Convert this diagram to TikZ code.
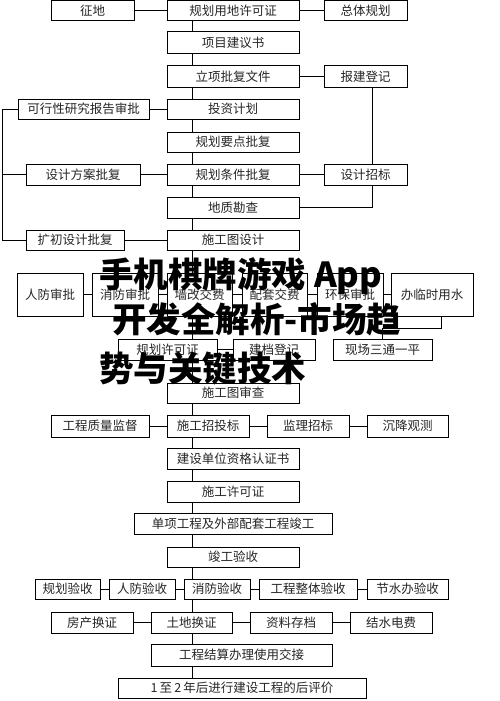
\documentclass[tikz,border=0pt]{standalone}
\usepackage{fontspec}
\newfontfamily\cjk{Noto Sans CJK SC}
\usetikzlibrary{backgrounds}
\newcommand\mkbox[6]{%
  \node[bx, minimum width={#3-#2}, minimum height={#5-#4}] (#1) at ({(#2+#3)/2},{(#4+#5)/2}) {#6};}
\begin{document}
\begin{tikzpicture}[x=1pt,y=-1pt,
  bx/.style={draw, line width=1pt, fill=white, inner sep=0pt,
    font=\cjk\fontsize{12.5}{14}\selectfont, text=black!85},
  ln/.style={line width=0.8pt},
  ttl/.style={anchor=base west, inner sep=0pt,
    font=\cjk\bfseries\fontsize{34.5}{36}\selectfont, text=black}]
\useasboundingbox (0,0) rectangle (500,701);
% top part
\mkbox{zd}{51}{134}{0.5}{21}{征地}
\mkbox{gh}{167}{299}{0.5}{21}{规划用地许可证}
\mkbox{zt}{324}{407}{0.5}{21}{总体规划}
\mkbox{xm}{167}{299}{32}{54}{项目建议书}
\mkbox{lx}{167}{299}{66}{87}{立项批复文件}
\mkbox{bj}{324}{407}{66}{87}{报建登记}
\mkbox{tz}{167}{299}{99}{119}{投资计划}
\mkbox{kx}{18}{149}{99}{119}{可行性研究报告审批}
\mkbox{yd}{167}{299}{132}{152}{规划要点批复}
\mkbox{tj}{167}{299}{164}{185}{规划条件批复}
\mkbox{fa}{26}{140}{164}{185}{设计方案批复}
\mkbox{zb}{324}{407}{164}{185}{设计招标}
\mkbox{dz}{167}{299}{197}{218}{地质勘查}
\mkbox{sj}{167}{299}{230}{250}{施工图设计}
\mkbox{kc}{26}{124}{230}{250}{扩初设计批复}
% six row
\mkbox{rf}{17}{83}{273}{316}{人防审批}
\mkbox{xf}{92}{158}{273}{316}{消防审批}
\mkbox{qg}{167}{232}{273}{316}{墙改交费}
\mkbox{pt}{242}{307}{273}{316}{配套交费}
\mkbox{hb}{317}{383}{273}{316}{环保审批}
\mkbox{ls}{391}{473}{273}{316}{办临时用水}
\mkbox{gx}{118}{217}{339}{360}{规划许可证}
\mkbox{jd}{233}{315}{339}{360}{建档登记}
\mkbox{xc}{333}{432}{339}{360}{现场三通一平}
% lower part
\mkbox{sc}{167}{299}{383}{403}{施工图审查}
\mkbox{zl}{51}{149}{415}{437}{工程质量监督}
\mkbox{zt2}{167}{249}{415}{437}{施工招投标}
\mkbox{jl}{267}{349}{415}{437}{监理招标}
\mkbox{cj}{367}{448}{415}{437}{沉降观测}
\mkbox{zg}{167}{299}{448}{469}{建设单位资格认证书}
\mkbox{xk}{167}{299}{481}{502}{施工许可证}
\mkbox{dx}{134}{332}{513}{534}{单项工程及外部配套工程竣工}
\mkbox{jg}{167}{299}{547}{567}{竣工验收}
\mkbox{ghys}{35}{100}{579}{599}{规划验收}
\mkbox{rfys}{109}{175}{579}{599}{人防验收}
\mkbox{xfys}{184}{250}{579}{599}{消防验收}
\mkbox{ztys}{259}{357}{579}{599}{工程整体验收}
\mkbox{jsys}{367}{448}{579}{599}{节水办验收}
\mkbox{fc}{51}{133}{612}{633}{房产换证}
\mkbox{td}{151}{232}{612}{633}{土地换证}
\mkbox{zl2}{250}{332}{612}{633}{资料存档}
\mkbox{js}{350}{432}{612}{633}{结水电费}
\mkbox{gc}{151}{332}{644}{666}{工程结算办理使用交接}
\mkbox{hp}{118}{366}{678}{698}{1\,至\,2\,年后进行建设工程的后评价}
% helper coordinates
\coordinate (mx) at (192,0);
\coordinate (lb) at (2,0);
\coordinate (bx) at (372,0);
\coordinate (k1) at (441,328);
\begin{pgfonlayer}{background}
\draw[ln] (gh.south -| mx) -- (hp.north -| mx);
\draw[ln] (zd) -- (gh);
\draw[ln] (gh) -- (zt);
\draw[ln] (lx) -- (bj);
\draw[ln] (kx) -- (tz);
\draw[ln] (fa) -- (tj);
\draw[ln] (tj) -- (zb);
\draw[ln] (kc) -- (sj);
\draw[ln] (bj.south -| bx) -- (zb.north -| bx);
\draw[ln] (zb.south -| bx) |- (dz.east);
\draw[ln] (kx.west) -- (kx.west -| lb) -- (kc.west -| lb) -- (kc.west);
\draw[ln] (fa.west -| lb) -- (fa.west);
\draw[ln] (rf) -- (xf);
\draw[ln] (xf) -- (qg);
\draw[ln] (qg) -- (pt);
\draw[ln] (pt) -- (hb);
\draw[ln] (hb) -- (ls);
\draw[ln] (ls.south -| k1) -- (k1) -| (xc.north);
\draw[ln] (gx) -- (jd);
\draw[ln] (zl) -- (zt2);
\draw[ln] (zt2) -- (jl);
\draw[ln] (jl) -- (cj);
\draw[ln] (ghys) -- (rfys);
\draw[ln] (rfys) -- (xfys);
\draw[ln] (xfys) -- (ztys);
\draw[ln] (ztys) -- (jsys);
\draw[ln] (fc) -- (td);
\draw[ln] (td) -- (zl2);
\draw[ln] (zl2) -- (js);
\end{pgfonlayer}
% overlay title
\node[ttl] (t1) at (99,287) {手机棋牌游戏 App};
\node[ttl] (t2) at (112,332) {开发全解析-市场趋};
\node[ttl] (t3) at (99,381) {势与关键技术};
\end{tikzpicture}
\end{document}
